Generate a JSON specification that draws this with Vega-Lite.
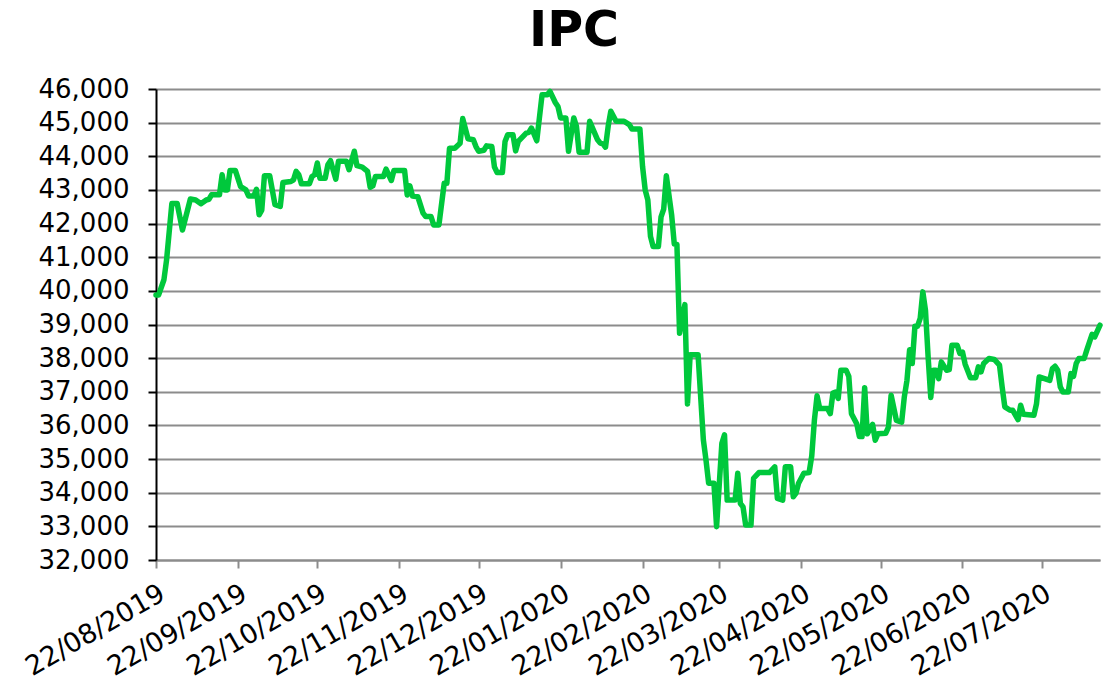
{
  "$schema": "https://vega.github.io/schema/vega-lite/v6.json",
  "width": 944,
  "height": 471,
  "autosize": {"type": "none"},
  "padding": {"left": 156, "top": 89, "right": 7, "bottom": 128},
  "background": "white",
  "title": {"text": "IPC", "fontSize": 49, "font": "DejaVu Sans", "fontWeight": "bold", "color": "black", "anchor": "middle", "dx": -54, "offset": 20},
  "config": {"view": {"stroke": null}},
  "data": {"values": [
    {"d": "2019-08-22", "v": 39880}, {"d": "2019-08-23", "v": 39880}, {"d": "2019-08-25", "v": 40330}, {"d": "2019-08-26", "v": 40920},
    {"d": "2019-08-28", "v": 42600}, {"d": "2019-08-30", "v": 42600}, {"d": "2019-09-01", "v": 41810}, {"d": "2019-09-04", "v": 42730},
    {"d": "2019-09-06", "v": 42700}, {"d": "2019-09-08", "v": 42590}, {"d": "2019-09-10", "v": 42700}, {"d": "2019-09-11", "v": 42720},
    {"d": "2019-09-12", "v": 42855}, {"d": "2019-09-15", "v": 42855}, {"d": "2019-09-16", "v": 43450}, {"d": "2019-09-17", "v": 43000},
    {"d": "2019-09-18", "v": 43000}, {"d": "2019-09-19", "v": 43580}, {"d": "2019-09-21", "v": 43580}, {"d": "2019-09-23", "v": 43100},
    {"d": "2019-09-25", "v": 43000}, {"d": "2019-09-26", "v": 42820}, {"d": "2019-09-28", "v": 42820}, {"d": "2019-09-29", "v": 43020},
    {"d": "2019-09-30", "v": 42260}, {"d": "2019-10-01", "v": 42400}, {"d": "2019-10-02", "v": 43420}, {"d": "2019-10-04", "v": 43420},
    {"d": "2019-10-06", "v": 42560}, {"d": "2019-10-08", "v": 42510}, {"d": "2019-10-09", "v": 43220}, {"d": "2019-10-12", "v": 43250},
    {"d": "2019-10-13", "v": 43300}, {"d": "2019-10-14", "v": 43550}, {"d": "2019-10-15", "v": 43450}, {"d": "2019-10-16", "v": 43180},
    {"d": "2019-10-19", "v": 43180}, {"d": "2019-10-20", "v": 43400}, {"d": "2019-10-21", "v": 43450}, {"d": "2019-10-22", "v": 43800},
    {"d": "2019-10-23", "v": 43350}, {"d": "2019-10-25", "v": 43350}, {"d": "2019-10-26", "v": 43750}, {"d": "2019-10-27", "v": 43870},
    {"d": "2019-10-29", "v": 43320}, {"d": "2019-10-30", "v": 43850}, {"d": "2019-11-02", "v": 43850}, {"d": "2019-11-03", "v": 43600},
    {"d": "2019-11-05", "v": 44150}, {"d": "2019-11-06", "v": 43720}, {"d": "2019-11-08", "v": 43680}, {"d": "2019-11-10", "v": 43550},
    {"d": "2019-11-11", "v": 43080}, {"d": "2019-11-12", "v": 43120}, {"d": "2019-11-13", "v": 43400}, {"d": "2019-11-16", "v": 43400},
    {"d": "2019-11-17", "v": 43620}, {"d": "2019-11-19", "v": 43280}, {"d": "2019-11-20", "v": 43580}, {"d": "2019-11-24", "v": 43580},
    {"d": "2019-11-25", "v": 42850}, {"d": "2019-11-26", "v": 43120}, {"d": "2019-11-27", "v": 42820}, {"d": "2019-11-29", "v": 42800},
    {"d": "2019-12-01", "v": 42310}, {"d": "2019-12-02", "v": 42210}, {"d": "2019-12-04", "v": 42210}, {"d": "2019-12-05", "v": 41960},
    {"d": "2019-12-07", "v": 41960}, {"d": "2019-12-09", "v": 43200}, {"d": "2019-12-10", "v": 43200}, {"d": "2019-12-11", "v": 44240},
    {"d": "2019-12-13", "v": 44240}, {"d": "2019-12-15", "v": 44390}, {"d": "2019-12-16", "v": 45120}, {"d": "2019-12-18", "v": 44520},
    {"d": "2019-12-20", "v": 44490}, {"d": "2019-12-21", "v": 44290}, {"d": "2019-12-22", "v": 44150}, {"d": "2019-12-24", "v": 44180},
    {"d": "2019-12-25", "v": 44310}, {"d": "2019-12-27", "v": 44290}, {"d": "2019-12-28", "v": 43680}, {"d": "2019-12-29", "v": 43520},
    {"d": "2019-12-31", "v": 43520}, {"d": "2020-01-01", "v": 44440}, {"d": "2020-01-02", "v": 44640}, {"d": "2020-01-04", "v": 44640},
    {"d": "2020-01-05", "v": 44160}, {"d": "2020-01-06", "v": 44440}, {"d": "2020-01-09", "v": 44690}, {"d": "2020-01-10", "v": 44710},
    {"d": "2020-01-11", "v": 44840}, {"d": "2020-01-13", "v": 44460}, {"d": "2020-01-15", "v": 45830}, {"d": "2020-01-17", "v": 45830},
    {"d": "2020-01-18", "v": 45930}, {"d": "2020-01-20", "v": 45600}, {"d": "2020-01-21", "v": 45480}, {"d": "2020-01-22", "v": 45140},
    {"d": "2020-01-24", "v": 45140}, {"d": "2020-01-25", "v": 44150}, {"d": "2020-01-27", "v": 45140}, {"d": "2020-01-28", "v": 44890},
    {"d": "2020-01-29", "v": 44120}, {"d": "2020-02-01", "v": 44120}, {"d": "2020-02-02", "v": 45040}, {"d": "2020-02-05", "v": 44490},
    {"d": "2020-02-06", "v": 44390}, {"d": "2020-02-07", "v": 44370}, {"d": "2020-02-08", "v": 44270}, {"d": "2020-02-09", "v": 44890},
    {"d": "2020-02-10", "v": 45340}, {"d": "2020-02-12", "v": 45040}, {"d": "2020-02-15", "v": 45040}, {"d": "2020-02-17", "v": 44940},
    {"d": "2020-02-18", "v": 44810}, {"d": "2020-02-21", "v": 44810}, {"d": "2020-02-22", "v": 43700}, {"d": "2020-02-23", "v": 43000},
    {"d": "2020-02-24", "v": 42700}, {"d": "2020-02-25", "v": 41620}, {"d": "2020-02-26", "v": 41320}, {"d": "2020-02-28", "v": 41320},
    {"d": "2020-02-29", "v": 42200}, {"d": "2020-03-01", "v": 42430}, {"d": "2020-03-02", "v": 43420}, {"d": "2020-03-04", "v": 42260},
    {"d": "2020-03-05", "v": 41390}, {"d": "2020-03-06", "v": 41380}, {"d": "2020-03-07", "v": 38740}, {"d": "2020-03-09", "v": 39590},
    {"d": "2020-03-10", "v": 36640}, {"d": "2020-03-11", "v": 38100}, {"d": "2020-03-14", "v": 38100}, {"d": "2020-03-16", "v": 35570},
    {"d": "2020-03-17", "v": 34970}, {"d": "2020-03-18", "v": 34280}, {"d": "2020-03-20", "v": 34280}, {"d": "2020-03-21", "v": 32990},
    {"d": "2020-03-23", "v": 35470}, {"d": "2020-03-24", "v": 35720}, {"d": "2020-03-25", "v": 33780}, {"d": "2020-03-28", "v": 33780},
    {"d": "2020-03-29", "v": 34580}, {"d": "2020-03-30", "v": 33680}, {"d": "2020-03-31", "v": 33580}, {"d": "2020-04-01", "v": 33040},
    {"d": "2020-04-03", "v": 33040}, {"d": "2020-04-04", "v": 34430}, {"d": "2020-04-06", "v": 34600}, {"d": "2020-04-10", "v": 34600},
    {"d": "2020-04-12", "v": 34770}, {"d": "2020-04-13", "v": 33830}, {"d": "2020-04-15", "v": 33780}, {"d": "2020-04-16", "v": 34770},
    {"d": "2020-04-18", "v": 34770}, {"d": "2020-04-19", "v": 33880}, {"d": "2020-04-20", "v": 33980}, {"d": "2020-04-21", "v": 34280},
    {"d": "2020-04-23", "v": 34580}, {"d": "2020-04-25", "v": 34600}, {"d": "2020-04-26", "v": 35100}, {"d": "2020-04-27", "v": 36160},
    {"d": "2020-04-28", "v": 36880}, {"d": "2020-04-29", "v": 36500}, {"d": "2020-05-02", "v": 36500}, {"d": "2020-05-03", "v": 36350},
    {"d": "2020-05-04", "v": 36960}, {"d": "2020-05-05", "v": 36990}, {"d": "2020-05-06", "v": 36800}, {"d": "2020-05-07", "v": 37640},
    {"d": "2020-05-09", "v": 37640}, {"d": "2020-05-10", "v": 37460}, {"d": "2020-05-11", "v": 36350}, {"d": "2020-05-13", "v": 36050},
    {"d": "2020-05-14", "v": 35670}, {"d": "2020-05-15", "v": 35670}, {"d": "2020-05-16", "v": 37120}, {"d": "2020-05-17", "v": 35750},
    {"d": "2020-05-19", "v": 36030}, {"d": "2020-05-20", "v": 35560}, {"d": "2020-05-21", "v": 35750}, {"d": "2020-05-24", "v": 35770},
    {"d": "2020-05-25", "v": 35950}, {"d": "2020-05-26", "v": 36900}, {"d": "2020-05-28", "v": 36150}, {"d": "2020-05-30", "v": 36100},
    {"d": "2020-05-31", "v": 36850}, {"d": "2020-06-01", "v": 37340}, {"d": "2020-06-02", "v": 38250}, {"d": "2020-06-03", "v": 37840},
    {"d": "2020-06-04", "v": 38950}, {"d": "2020-06-05", "v": 38950}, {"d": "2020-06-06", "v": 39180}, {"d": "2020-06-07", "v": 39970},
    {"d": "2020-06-08", "v": 39420}, {"d": "2020-06-09", "v": 38040}, {"d": "2020-06-10", "v": 36830}, {"d": "2020-06-11", "v": 37640},
    {"d": "2020-06-12", "v": 37640}, {"d": "2020-06-13", "v": 37390}, {"d": "2020-06-14", "v": 37890}, {"d": "2020-06-16", "v": 37640},
    {"d": "2020-06-17", "v": 37660}, {"d": "2020-06-18", "v": 38380}, {"d": "2020-06-20", "v": 38380}, {"d": "2020-06-21", "v": 38140},
    {"d": "2020-06-22", "v": 38180}, {"d": "2020-06-23", "v": 37820}, {"d": "2020-06-25", "v": 37420}, {"d": "2020-06-27", "v": 37420},
    {"d": "2020-06-28", "v": 37740}, {"d": "2020-06-29", "v": 37590}, {"d": "2020-06-30", "v": 37840}, {"d": "2020-07-02", "v": 37990},
    {"d": "2020-07-04", "v": 37960}, {"d": "2020-07-06", "v": 37790}, {"d": "2020-07-07", "v": 37140}, {"d": "2020-07-08", "v": 36550},
    {"d": "2020-07-10", "v": 36450}, {"d": "2020-07-11", "v": 36450}, {"d": "2020-07-13", "v": 36170}, {"d": "2020-07-14", "v": 36600},
    {"d": "2020-07-15", "v": 36330}, {"d": "2020-07-19", "v": 36300}, {"d": "2020-07-20", "v": 36650}, {"d": "2020-07-21", "v": 37440},
    {"d": "2020-07-23", "v": 37390}, {"d": "2020-07-25", "v": 37340}, {"d": "2020-07-26", "v": 37690}, {"d": "2020-07-27", "v": 37760},
    {"d": "2020-07-28", "v": 37640}, {"d": "2020-07-29", "v": 37140}, {"d": "2020-07-30", "v": 36990}, {"d": "2020-08-01", "v": 36990},
    {"d": "2020-08-02", "v": 37540}, {"d": "2020-08-03", "v": 37460}, {"d": "2020-08-04", "v": 37840}, {"d": "2020-08-05", "v": 37990},
    {"d": "2020-08-07", "v": 37990}, {"d": "2020-08-08", "v": 38240}, {"d": "2020-08-10", "v": 38710}, {"d": "2020-08-11", "v": 38630},
    {"d": "2020-08-13", "v": 38980}
  ]},
  "mark": {"type": "line", "color": "#00c83c", "strokeWidth": 5.5, "strokeJoin": "round", "strokeCap": "round"},
  "encoding": {
    "x": {
      "field": "d", "type": "temporal",
      "scale": {"type": "utc", "nice": false, "domain": [{"year": 2019, "month": 8, "date": 22, "utc": true}, {"year": 2020, "month": 8, "date": 13, "utc": true}]},
      "axis": {
        "title": null, "grid": false, "format": "%d/%m/%Y",
        "values": [
          {"year": 2019, "month": 8, "date": 22, "utc": true}, {"year": 2019, "month": 9, "date": 22, "utc": true},
          {"year": 2019, "month": 10, "date": 22, "utc": true}, {"year": 2019, "month": 11, "date": 22, "utc": true},
          {"year": 2019, "month": 12, "date": 22, "utc": true}, {"year": 2020, "month": 1, "date": 22, "utc": true},
          {"year": 2020, "month": 2, "date": 22, "utc": true}, {"year": 2020, "month": 3, "date": 22, "utc": true},
          {"year": 2020, "month": 4, "date": 22, "utc": true}, {"year": 2020, "month": 5, "date": 22, "utc": true},
          {"year": 2020, "month": 6, "date": 22, "utc": true}, {"year": 2020, "month": 7, "date": 22, "utc": true}
        ],
        "labelAngle": -30, "labelFont": "DejaVu Sans", "labelFontSize": 27, "labelColor": "black",
        "labelPadding": 12, "labelOverlap": false, "labelBound": false, "labelFlush": false,
        "domainColor": "#8c8c8c", "domainWidth": 2, "tickColor": "#8c8c8c", "tickWidth": 2, "tickSize": 8
      }
    },
    "y": {
      "field": "v", "type": "quantitative",
      "scale": {"domain": [32000, 46000], "nice": false, "zero": false},
      "axis": {
        "title": null, "format": ",.0f",
        "values": [32000, 33000, 34000, 35000, 36000, 37000, 38000, 39000, 40000, 41000, 42000, 43000, 44000, 45000, 46000],
        "labelFont": "DejaVu Sans", "labelFontSize": 26, "labelColor": "black", "labelPadding": 19,
        "grid": true, "gridColor": "#8c8c8c", "gridWidth": 2,
        "domainColor": "black", "domainWidth": 2, "tickColor": "black", "tickWidth": 2, "tickSize": 8
      }
    }
  }
}
